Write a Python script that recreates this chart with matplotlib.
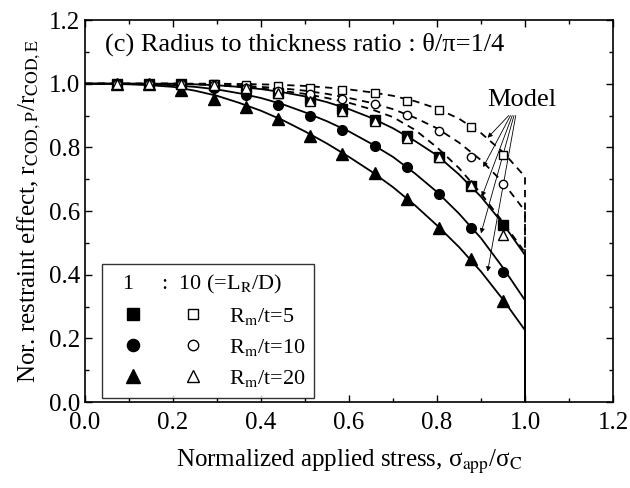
import matplotlib
matplotlib.use("Agg")
import matplotlib.pyplot as plt
from matplotlib.legend_handler import HandlerTuple
from matplotlib.ticker import MultipleLocator

plt.rcParams["font.family"] = ["Liberation Serif", "DejaVu Serif"]
plt.rcParams["mathtext.fontset"] = "stix"

# measured points (13 stress levels)
x_pts = [0.073, 0.146, 0.219, 0.292, 0.366, 0.439, 0.512, 0.585, 0.658, 0.731, 0.804, 0.878, 0.951]

# L_R/D = 1 (filled)
sq_f = [1.0, 1.0, 1.0, 0.995, 0.985, 0.97, 0.95, 0.92, 0.885, 0.835, 0.77, 0.68, 0.557]
ci_f = [1.0, 1.0, 0.997, 0.985, 0.963, 0.932, 0.897, 0.856, 0.804, 0.738, 0.654, 0.547, 0.41]
tr_f = [1.0, 0.998, 0.98, 0.953, 0.928, 0.89, 0.835, 0.78, 0.718, 0.638, 0.547, 0.45, 0.318]

# L_R/D = 10 (open)
sq_o = [1.0, 1.0, 1.0, 1.0, 0.997, 0.993, 0.988, 0.98, 0.97, 0.946, 0.918, 0.865, 0.777]
ci_o = [1.0, 1.0, 1.0, 0.995, 0.987, 0.978, 0.967, 0.953, 0.937, 0.903, 0.852, 0.77, 0.685]
tr_o = [1.0, 1.0, 1.0, 0.995, 0.985, 0.97, 0.945, 0.915, 0.884, 0.83, 0.77, 0.682, 0.525]

# model curves
x_mod = [0.0, 0.05, 0.1, 0.15, 0.2, 0.25, 0.3, 0.35, 0.4, 0.45, 0.5,
         0.55, 0.6, 0.65, 0.7, 0.75, 0.8, 0.85, 0.9, 0.95, 1.0]
solid5 = [1.0, 1.0, 1.0, 1.0, 1.0, 0.998, 0.995, 0.99, 0.983, 0.973, 0.96,
          0.942, 0.92, 0.893, 0.86, 0.82, 0.775, 0.715, 0.645, 0.56, 0.462]
solid10 = [1.0, 1.0, 1.0, 0.999, 0.995, 0.99, 0.982, 0.97, 0.955, 0.935, 0.91,
           0.882, 0.85, 0.812, 0.77, 0.718, 0.66, 0.592, 0.515, 0.422, 0.32]
solid20 = [1.0, 1.0, 0.998, 0.995, 0.99, 0.978, 0.962, 0.94, 0.915, 0.885, 0.85,
           0.812, 0.77, 0.725, 0.675, 0.618, 0.555, 0.487, 0.41, 0.322, 0.226]
dash5 = [1.0, 1.0, 1.0, 1.0, 1.0, 1.0, 1.0, 0.999, 0.998, 0.996, 0.993,
         0.988, 0.982, 0.973, 0.962, 0.945, 0.922, 0.89, 0.845, 0.785, 0.708]
dash10 = [1.0, 1.0, 1.0, 1.0, 1.0, 0.999, 0.997, 0.994, 0.99, 0.985, 0.978,
          0.968, 0.955, 0.94, 0.92, 0.893, 0.86, 0.815, 0.76, 0.69, 0.6]
dash20 = [1.0, 1.0, 1.0, 1.0, 1.0, 0.998, 0.995, 0.99, 0.985, 0.977, 0.968,
          0.955, 0.94, 0.92, 0.895, 0.855, 0.80, 0.735, 0.655, 0.565, 0.47]

# "Model" arrow targets
arrow_x = [0.915, 0.905, 0.902, 0.900, 0.915]
arrow_y = [0.83, 0.738, 0.645, 0.53, 0.41]

fig = plt.figure(figsize=(6.3, 4.88), dpi=100)
ax = fig.add_axes([0.135, 0.176, 0.838, 0.783])

for y in [solid5, solid10, solid20]:
    ax.plot(x_mod + [x_mod[-1]], y + [0.0], color="black", lw=1.3, zorder=2)
for y in [dash5, dash10, dash20]:
    ax.plot(x_mod + [x_mod[-1]], y + [0.0], color="black", lw=1.3,
            dashes=(4, 3), zorder=2)

ms = 7
h_sf, = ax.plot(x_pts, sq_f, "s", ms=ms, color="black", ls="none", zorder=3)
h_cf, = ax.plot(x_pts, ci_f, "o", ms=ms, color="black", ls="none", zorder=3)
h_tf, = ax.plot(x_pts, tr_f, "^", ms=ms + 1, color="black", ls="none", zorder=3)
h_so, = ax.plot(x_pts, sq_o, "s", ms=ms - 1, mfc="white", mec="black", mew=1,
                ls="none", zorder=4)
h_co, = ax.plot(x_pts, ci_o, "o", ms=ms - 1, mfc="white", mec="black", mew=1,
                ls="none", zorder=4)
h_to, = ax.plot(x_pts, tr_o, "^", ms=ms, mfc="white", mec="black", mew=1,
                ls="none", zorder=4)

ax.text(0.913, 0.95, "Model", fontsize=19, ha="left", va="center")
for i, (tx, ty) in enumerate(zip(arrow_x, arrow_y)):
    ax.annotate("", xy=(tx, ty), xytext=(0.963 + 0.004 * i, 0.9),
                arrowprops=dict(arrowstyle="-|>", lw=0.6, color="black",
                                mutation_scale=7, shrinkA=0, shrinkB=0))

ax.text(0.045, 1.123, "(c) Radius to thickness ratio : θ/π=1/4",
        fontsize=19, va="center")

leg = ax.legend([(h_sf, h_so), (h_cf, h_co), (h_tf, h_to)],
                [r"R$_{\mathrm{m}}$/t=5", r"R$_{\mathrm{m}}$/t=10",
                 r"R$_{\mathrm{m}}$/t=20"],
                handler_map={tuple: HandlerTuple(ndivide=None, pad=0.72)},
                handlelength=4.7, title=r"  1     :  10 (=L$_{\mathrm{R}}$/D)",
                alignment="left", loc="lower left", bbox_to_anchor=(0.032, 0.012),
                frameon=True, fancybox=False, edgecolor="black", fontsize=16,
                title_fontsize=16, markerscale=1.25, borderpad=0.4,
                labelspacing=0.45, handletextpad=0.6, borderaxespad=0.0)
leg.get_frame().set_linewidth(1.0)

ax.set_xlim(0, 1.2)
ax.set_ylim(0, 1.2)
ax.xaxis.set_major_locator(MultipleLocator(0.2))
ax.xaxis.set_minor_locator(MultipleLocator(0.1))
ax.yaxis.set_major_locator(MultipleLocator(0.2))
ax.yaxis.set_minor_locator(MultipleLocator(0.1))
ax.xaxis.set_major_formatter(plt.FormatStrFormatter("%.1f"))
ax.yaxis.set_major_formatter(plt.FormatStrFormatter("%.1f"))
ax.tick_params(which="both", direction="in", top=True, right=True, labelsize=18)
ax.tick_params(which="major", length=5, width=1)
ax.tick_params(which="minor", length=3, width=1)
ax.tick_params(axis="x", which="major", pad=7)
for s in ax.spines.values():
    s.set_linewidth(1.2)

ax.set_xlabel(r"Normalized applied stress, σ$_{\mathrm{app}}$/σ$_{\mathrm{C}}$",
              fontsize=18, labelpad=10)
ax.set_ylabel(r"Nor. restraint effect, r$_{\mathrm{COD,P}}$/r$_{\mathrm{COD,E}}$",
              fontsize=18, labelpad=4)

fig.savefig("out.png", dpi=100)
